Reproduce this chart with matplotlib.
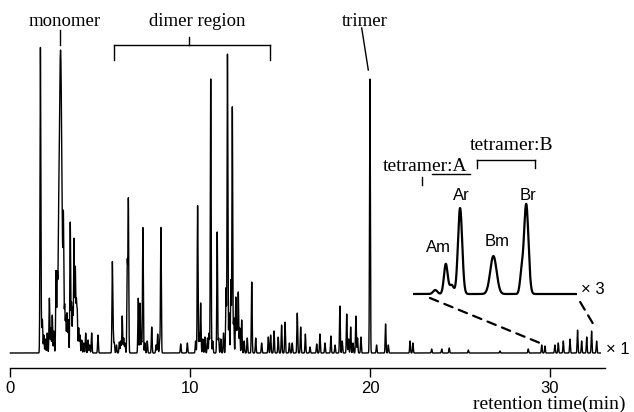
import numpy as np
import matplotlib
matplotlib.use("Agg")
import matplotlib.pyplot as plt
from matplotlib.lines import Line2D
from matplotlib.patches import ConnectionPatch

# sharp peaks of the x1 trace: retention time (min) and height (a.u.)
peak_time = [
    1.67, 1.72, 1.78, 1.86, 1.95, 2.05, 2.17, 2.25, 2.33, 2.42, 2.54, 2.61, 2.68,
    2.95, 3.02, 3.08, 3.15, 3.22, 3.33, 3.40, 3.47, 3.54, 3.61, 3.67, 3.72, 3.80,
    3.87, 3.97, 4.08, 4.19, 4.32, 4.41, 4.52, 4.87, 5.67, 5.72, 5.78, 5.90, 6.06,
    6.14, 6.22, 6.30, 6.37, 6.50, 6.56, 7.11, 7.21, 7.29, 7.37, 7.48, 7.61, 7.86,
    8.10, 8.19, 8.30, 8.37, 9.47, 9.84, 10.30, 10.41, 10.50, 10.58, 10.70, 10.82,
    10.96, 11.05, 11.14, 11.25, 11.50, 11.58, 11.70, 11.85, 11.99, 12.07, 12.16,
    12.26, 12.34, 12.42, 12.53, 12.60, 12.67, 12.75, 12.86, 13.00, 13.17, 13.42,
    13.64, 13.97, 14.34, 14.47, 14.66, 14.89, 15.08, 15.27, 15.51, 15.67, 15.95,
    16.14, 16.40, 16.66, 17.03, 17.21, 17.49, 17.82, 18.05, 18.32, 18.45, 18.70,
    18.80, 18.92, 19.05, 19.21, 19.30, 19.49, 19.99, 20.36, 20.86, 21.01, 22.22,
    22.38, 23.42, 23.98, 24.40, 25.46, 27.22, 28.79, 29.54, 29.72, 30.27, 30.46,
    30.74, 31.11, 31.53, 31.76, 32.04, 32.31, 32.59,
]
peak_height = [
    304, 30, 33, 18, 14, 20, 55, 25, 38, 22, 81, 63, 40,
    110, 45, 36, 40, 33, 131, 50, 45, 114, 85, 50, 40, 25,
    18, 13, 10, 20, 13, 8, 20, 18, 90, 20, 10, 8, 11,
    12, 37, 15, 10, 90, 153, 55, 50, 12, 126, 10, 12, 26,
    8, 19, 12, 126, 9, 10, 12, 148, 20, 50, 14, 16,
    15, 20, 274, 12, 121, 15, 14, 20, 65, 300, 40,
    73, 246, 35, 56, 30, 61, 25, 33, 12, 15, 71,
    15, 10, 16, 18, 22, 16, 28, 31, 10, 10, 40,
    26, 19, 6, 9, 19, 10, 17, 8, 47, 12, 39,
    14, 26, 10, 37, 15, 16, 275, 8, 29, 8, 12,
    10, 4, 4, 5, 3, 2, 4, 8, 7, 8, 10,
    12, 14, 23, 12, 16, 22, 12,
]

# broad (saturated) monomer peak
broad_time = [2.79]
broad_height = [303]
broad_width = [0.075]

# tetramer region, expanded x3
tetra_time = [29.87, 30.07, 30.18, 30.34, 30.97, 31.50, 31.59]
tetra_height = [4, 30, 9, 86, 38, 18, 90]
tetra_width = [0.04, 0.035, 0.04, 0.04, 0.06, 0.03, 0.042]

tick_values = [0, 10, 20, 30]

W, H = 634, 412


def fx(px):
    return px / W


def fy(py):
    return 1 - py / H


def trace(t, times, heights, widths):
    y = np.zeros_like(t)
    for t0, h, w in zip(times, heights, widths):
        y += h * np.exp(-0.5 * ((t - t0) / w) ** 2)
    return y


fig = plt.figure(figsize=(W / 100, H / 100), dpi=100)
ax = fig.add_axes([0, 0, 1, 1])

t = np.arange(0.0, 32.8, 0.004)
y = trace(t, peak_time, peak_height, [0.022] * len(peak_time))
y += trace(t, broad_time, broad_height, broad_width)
ax.plot(t, y, color="black", lw=1.0)

ax.set_xlim(-0.575, 34.67)
ax.set_ylim(-59, 353)
for side in ["top", "left", "right"]:
    ax.spines[side].set_visible(False)
ax.spines["bottom"].set_position(("data", -15))
ax.spines["bottom"].set_bounds(0, 33.05)
ax.spines["bottom"].set_linewidth(1.0)
ax.set_xticks(tick_values)
ax.set_yticks([])
ax.tick_params(axis="x", direction="out", length=6.5, width=1.0, pad=3,
               labelsize=12)
for lab in ax.get_xticklabels():
    lab.set_fontfamily("Liberation Sans")
ax.patch.set_visible(False)

# inset with the tetramer peaks
ins = fig.add_axes([fx(413), fy(294) - 3 / H, fx(577) - fx(413), 103 / H])
ti = np.arange(29.45, 32.55, 0.004)
ins.plot(ti, trace(ti, tetra_time, tetra_height, tetra_width),
         color="black", lw=1.6, solid_capstyle="round")
ins.set_xlim(29.45, 32.55)
ins.set_ylim(-3, 100)
ins.axis("off")

for xa, ya, xb, yb in [(29.77, -4, 29.44, 10), (32.61, -8, 32.50, 26)]:
    con = ConnectionPatch(xyA=(xa, ya), coordsA=ins.transData,
                          xyB=(xb, yb), coordsB=ax.transData,
                          color="black", lw=1.6, linestyle=(0, (4, 3)))
    fig.add_artist(con)

serif = "Liberation Serif"
sans = "Liberation Sans"

fig.text(fx(65), fy(22), "monomer", family=serif, fontsize=13.5,
         ha="center", va="center")
fig.text(fx(197), fy(22), "dimer region", family=serif, fontsize=13.5,
         ha="center", va="center")
fig.text(fx(365), fy(21), "trimer", family=serif, fontsize=13.5,
         ha="center", va="center")
fig.text(fx(383), fy(166), "tetramer:A", family=serif, fontsize=14,
         ha="left", va="center")
fig.text(fx(470), fy(145), "tetramer:B", family=serif, fontsize=14,
         ha="left", va="center")
fig.text(fx(549), fy(404), "retention time(min)", family=serif,
         fontsize=14, ha="center", va="center")

for label, px, py in [("Am", 438, 248), ("Ar", 461, 195),
                      ("Bm", 497, 242), ("Br", 528, 195)]:
    fig.text(fx(px), fy(py), label, family=sans, fontsize=12,
             ha="center", va="center")

fig.text(fx(581), fy(290), "× 3", family=sans, fontsize=12,
         ha="left", va="center")
fig.text(fx(606), fy(350), "× 1", family=sans, fontsize=12,
         ha="left", va="center")

# brackets and pointers (pixel coordinates)
segments = [
    ([60, 60], [30, 45]),
    ([114, 270], [45, 45]),
    ([114, 114], [45, 60]),
    ([270, 270], [45, 60]),
    ([189, 189], [37, 45]),
    ([361.7, 368.3], [28, 70]),
    ([476.7, 535], [160, 160]),
    ([476.7, 476.7], [160, 168]),
    ([535, 535], [160, 168]),
    ([432, 470], [174, 174]),
    ([421.7, 421.7], [177, 185]),
]
for xs, ys in segments:
    fig.add_artist(Line2D([fx(v) for v in xs], [fy(v) for v in ys],
                          color="black", lw=1.0))

fig.savefig("out.png", dpi=100)
